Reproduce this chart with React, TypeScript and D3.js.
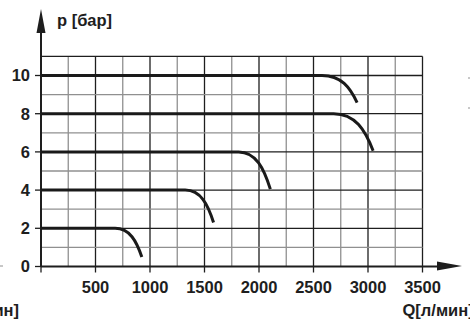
import React from "react";
import * as d3 from "d3";

const xTicks = [500, 1000, 1500, 2000, 2500, 3000, 3500];
const yTicks = [0, 2, 4, 6, 8, 10];
const xLabel = "Q[л/мин]";
const yLabel = "p [бар]";

// each characteristic: flat at pressure until kneeQ, then bends down to (endQ, endP)
const pressures = [2, 4, 6, 8, 10];
const kneeQ = [680, 1323, 1813, 2685, 2578];
const endQ = [925, 1583, 2104, 3047, 2900];
const endP = [0.5, 2.3, 4.05, 6.06, 8.58];

export default function App() {
  const W = 470, H = 322;
  const x = d3.scaleLinear().domain([0, 3500]).range([41, 422.5]);
  const y = d3.scaleLinear().domain([0, 11]).range([266.5, 56.4]);
  const vGrid = d3.range(250, 3501, 250);
  const hGrid = d3.range(1, 12, 1);
  const font = "'Liberation Sans', Arial, sans-serif";
  const dark = "#1e1e1e";
  const gray = "#909090";

  const curvePath = (i: number) => {
    const p = d3.path();
    const x0 = x(0), y0 = y(pressures[i]);
    const xk = x(kneeQ[i]);
    const xe = x(endQ[i]), ye = y(endP[i]);
    const dx = xe - xk, dy = ye - y0;
    p.moveTo(x0, y0);
    p.lineTo(xk, y0);
    p.bezierCurveTo(xk + 0.55 * dx, y0, xe - 0.2 * dx, ye - 0.55 * dy, xe, ye);
    return p.toString();
  };

  return (
    <svg width={W} height={H} style={{ position: "absolute", left: 0, top: 0, background: "#fff" }}>
      <rect x={0} y={0} width={W} height={H} fill="#fff" />
      {vGrid.map(v => {
        const major = v % 500 === 0;
        return <line key={"v" + v} x1={x(v)} x2={x(v)} y1={y(11)} y2={y(0)} stroke={major ? dark : gray} strokeWidth={1.3} />;
      })}
      {hGrid.map(v => {
        const major = v % 2 === 0 || v === 11;
        return <line key={"h" + v} x1={x(0)} x2={x(3500)} y1={y(v)} y2={y(v)} stroke={major ? dark : gray} strokeWidth={1.3} />;
      })}
      {xTicks.map(t => (
        <line key={"xt" + t} x1={x(t)} x2={x(t)} y1={y(0)} y2={y(0) + 6} stroke={dark} strokeWidth={1.3} />
      ))}
      <line x1={x(0)} x2={x(0)} y1={y(0)} y2={y(0) + 6} stroke={dark} strokeWidth={1.3} />
      {yTicks.map(t => (
        <line key={"yt" + t} x1={x(0) - 6} x2={x(0)} y1={y(t)} y2={y(t)} stroke={dark} strokeWidth={1.3} />
      ))}
      <line x1={x(0)} x2={x(0)} y1={y(0)} y2={32} stroke={dark} strokeWidth={2} />
      <polygon points={`${x(0)},9 ${x(0) - 4.5},33 ${x(0) + 4.5},33`} fill={dark} />
      <line x1={x(0)} x2={438} y1={y(0)} y2={y(0)} stroke={dark} strokeWidth={2} />
      <polygon points={`462,${y(0) - 0.5} 437,${y(0) - 5} 437,${y(0) + 4}`} fill={dark} />
      {pressures.map((_, i) => (
        <path key={"s" + i} d={curvePath(i)} fill="none" stroke="#1a1a1a" strokeWidth={3} />
      ))}
      {yTicks.map(t => (
        <text key={"yl" + t} x={30} y={y(t) + 5.8} textAnchor="end" fontFamily={font} fontWeight="bold" fontSize={16.5} fill={dark}>{t}</text>
      ))}
      {xTicks.map(t => (
        <text key={"xl" + t} x={x(t)} y={293} textAnchor="middle" fontFamily={font} fontWeight="bold" fontSize={16.5} fill={dark}>{t}</text>
      ))}
      <text x={57} y={26} fontFamily={font} fontWeight="bold" fontSize={16.5} fill={dark}>{yLabel}</text>
      <text x={402.5} y={316} fontFamily={font} fontWeight="bold" fontSize={16.5} fill={dark}>{xLabel}</text>
      <text x={19} y={316} textAnchor="end" fontFamily={font} fontWeight="bold" fontSize={16.5} fill={dark}>{xLabel}</text>
      <line x1={0} x2={3} y1={266} y2={266} stroke={gray} strokeWidth={1} />
      <line x1={468} x2={470} y1={78} y2={78} stroke={gray} strokeWidth={1} />
      <line x1={468} x2={470} y1={108} y2={108} stroke={gray} strokeWidth={1} />
    </svg>
  );
}
